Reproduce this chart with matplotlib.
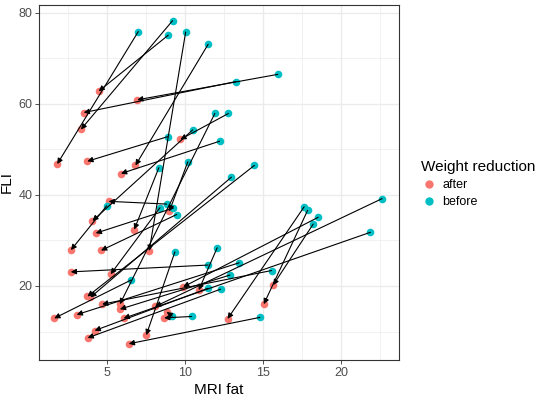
import matplotlib
matplotlib.use("Agg")
import matplotlib.pyplot as plt
from matplotlib.lines import Line2D

plt.rcParams['font.family'] = ['Liberation Sans', 'DejaVu Sans']

# MRI fat / FLI before and after weight reduction (paired by index)
mri_before = [6.99, 9.19, 8.91, 10.03, 11.47, 13.23, 15.94, 11.90, 12.77, 8.87,
              10.48, 12.20, 8.31, 10.17, 14.44, 12.96, 4.96, 8.38, 8.81, 9.23,
              9.45, 17.63, 17.85, 18.53, 18.21, 22.63, 21.88, 9.34, 12.05, 11.46,
              13.46, 12.87, 15.54, 6.52, 11.46, 12.27, 9.17, 10.41, 14.79]
fli_before = [75.9, 78.3, 75.1, 75.8, 73.1, 64.9, 66.5, 57.9, 57.9, 52.8,
              54.3, 51.8, 46.0, 47.3, 46.5, 43.9, 37.6, 37.2, 38.0, 37.1,
              35.7, 37.4, 36.6, 35.1, 33.6, 39.2, 31.8, 27.5, 28.4, 24.6,
              25.1, 22.4, 23.4, 21.3, 19.5, 19.3, 13.4, 13.3, 13.1]
mri_after = [1.79, 3.31, 4.45, 7.69, 6.81, 3.49, 6.92, 5.81, 9.69, 3.72,
             4.05, 5.88, 6.73, 8.98, 3.73, 3.92, 2.67, 5.22, 5.09, 4.26,
             4.60, 12.72, 15.04, 9.87, 15.64, 8.08, 6.05, 7.50, 10.87, 2.66,
             3.04, 5.81, 4.67, 1.60, 4.19, 3.74, 8.81, 8.65, 6.38]
fli_after = [46.8, 54.4, 62.8, 27.7, 46.5, 58.1, 60.9, 16.0, 52.2, 47.4,
             34.3, 44.7, 32.4, 36.4, 17.7, 17.5, 27.9, 22.6, 38.6, 31.6,
             27.8, 12.8, 16.0, 19.8, 20.2, 15.5, 12.9, 9.2, 19.1, 23.1,
             13.7, 14.9, 16.0, 12.9, 10.2, 8.6, 14.3, 13.0, 7.3]

col_after = '#F8766D'
col_before = '#00BFC4'

fig = plt.figure(figsize=(5.36, 3.96), dpi=100)
ax = fig.add_axes([0.0733, 0.0909, 0.6707, 0.8972])

ax.scatter(mri_after, fli_after, s=30, color=col_after, zorder=3, linewidths=0)
ax.scatter(mri_before, fli_before, s=30, color=col_before, zorder=3, linewidths=0)

for xb, yb, xa, ya in zip(mri_before, fli_before, mri_after, fli_after):
    ax.annotate('', xy=(xa, ya), xytext=(xb, yb),
                arrowprops=dict(arrowstyle='-|>', color='black', lw=0.8,
                                mutation_scale=8, shrinkA=0, shrinkB=0),
                zorder=4)

ax.set_xlim(0.64, 23.7)
ax.set_ylim(3.74, 81.8)
ax.set_xticks([5, 10, 15, 20])
ax.set_yticks([20, 40, 60, 80])
ax.set_xticks([2.5, 7.5, 12.5, 17.5, 22.5], minor=True)
ax.set_yticks([10, 30, 50, 70], minor=True)
ax.grid(True, which='major', color='#EBEBEB', lw=1.0, zorder=0)
ax.grid(True, which='minor', color='#EBEBEB', lw=0.5, zorder=0)
ax.set_axisbelow(True)
ax.tick_params(which='major', length=3, width=0.6, color='#333333',
               labelcolor='#4D4D4D', labelsize=9, pad=2)
ax.tick_params(which='minor', length=0)
for sp in ax.spines.values():
    sp.set_color('#333333')
    sp.set_linewidth(0.8)

ax.set_xlabel('MRI fat', fontsize=11, labelpad=3)
ax.set_ylabel('FLI', fontsize=11, labelpad=3)

handles = [Line2D([], [], marker='o', ls='', color=col_after, markersize=6, markeredgewidth=0),
           Line2D([], [], marker='o', ls='', color=col_before, markersize=6, markeredgewidth=0)]
leg = ax.legend(handles, ['after', 'before'], title='Weight reduction',
                loc='center left', bbox_to_anchor=(0.765, 0.535),
                bbox_transform=fig.transFigure, frameon=False,
                fontsize=9, title_fontsize=11, alignment='left',
                handletextpad=0.5, labelspacing=0.4, handlelength=1.2)

fig.savefig('out.png', dpi=100)
